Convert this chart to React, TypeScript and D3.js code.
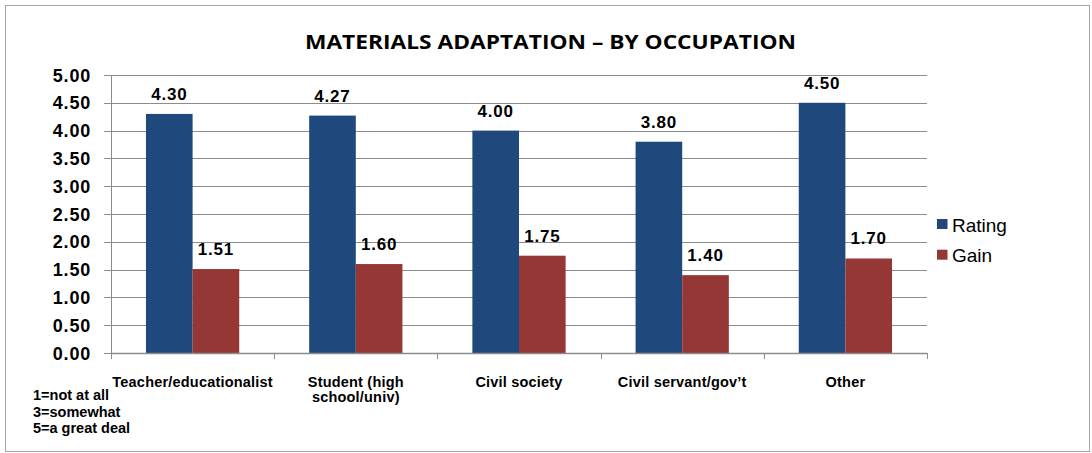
import React from "react";
import * as d3 from "d3";

const categories = ["Teacher/educationalist", "Student (high school/univ)", "Civil society", "Civil servant/gov’t", "Other"];
const categoryLines = [["Teacher/educationalist"], ["Student (high", "school/univ)"], ["Civil society"], ["Civil servant/gov’t"], ["Other"]];
const seriesNames = ["Rating", "Gain"];
const ratingValues = [4.3, 4.27, 4.0, 3.8, 4.5];
const gainValues = [1.51, 1.6, 1.75, 1.4, 1.7];
const yTicks = [0, 0.5, 1, 1.5, 2, 2.5, 3, 3.5, 4, 4.5, 5];
const noteLines = ["1=not at all", "3=somewhat", "5=a great deal"];
const colors = ["#1F497D", "#953735"];

export default function App() {
  const W = 1092, H = 453;
  const left = 111, right = 927, top = 75, bottom = 353;
  const x0 = d3.scaleBand<string>().domain(categories).range([left, right]).paddingInner(0).paddingOuter(0);
  const bw = x0.bandwidth() / 3.5;
  const x1 = d3.scaleBand<string>().domain(seriesNames).range([0, bw * 2]);
  const y = d3.scaleLinear().domain([0, 5]).range([bottom, top]);
  const series = [ratingValues, gainValues];
  const font = "Liberation Sans, Arial, sans-serif";
  const grid = "#8c8c8c";
  return (
    <svg width={W} height={H} style={{ position: "absolute", left: 0, top: 0, fontFamily: font }}>
      <rect x={0} y={0} width={W} height={H} fill="#fff" />
      <rect x={5.5} y={5.5} width={1084} height={446} fill="#fff" stroke="#a6a6a6" strokeWidth={1} />
      <text x={305} y={48.5} fontSize={19} fontWeight="bold" textLength={491} lengthAdjust="spacingAndGlyphs" fontFamily="Open Sans, Liberation Sans, sans-serif">MATERIALS ADAPTATION – BY OCCUPATION</text>
      {yTicks.map((t) => (
        <g key={t}>
          {t > 0 && <line x1={left} x2={right} y1={Math.round(y(t)) + 0.5} y2={Math.round(y(t)) + 0.5} stroke={grid} strokeWidth={1} />}
          <line x1={left - 7} x2={left} y1={Math.round(y(t)) + 0.5} y2={Math.round(y(t)) + 0.5} stroke={grid} />
          <text x={91} y={y(t) + 6.5} textAnchor="end" fontSize={18} letterSpacing={0.8} fontWeight="bold">{t.toFixed(2)}</text>
        </g>
      ))}
      {categories.map((c, i) => (
        <g key={c}>
          {series.map((vals, s) => {
            const bx = (x0(c) as number) + bw * 0.75 + (x1(seriesNames[s]) as number);
            return (
              <g key={s}>
                <rect x={bx} y={y(vals[i])} width={bw} height={bottom - y(vals[i])} fill={colors[s]} />
                <text x={bx + bw / 2} y={y(vals[i]) - 14} textAnchor="middle" fontSize={17} letterSpacing={0.8} fontWeight="bold">{vals[i].toFixed(2)}</text>
              </g>
            );
          })}
          {categoryLines[i].map((ln, k) => (
            <text key={k} x={(x0(c) as number) + x0.bandwidth() / 2} y={386.5 + k * 15} textAnchor="middle" fontSize={14.5} letterSpacing={0.2} fontWeight="bold">{ln}</text>
          ))}
        </g>
      ))}
      <line x1={left + 0.5} x2={left + 0.5} y1={top} y2={bottom} stroke={grid} strokeWidth={1} />
      <line x1={left} x2={right} y1={bottom + 0.5} y2={bottom + 0.5} stroke={grid} strokeWidth={1.5} />
      {d3.range(6).map((k) => {
        const tx = Math.round(left + k * x0.bandwidth()) + 0.5;
        return <line key={k} x1={tx} x2={tx} y1={bottom} y2={bottom + 6} stroke={grid} />;
      })}
      {noteLines.map((n, k) => (
        <text key={n} x={33} y={400 + k * 16.5} fontSize={14.5} fontWeight="bold">{n}</text>
      ))}
      {seriesNames.map((s, k) => (
        <g key={s}>
          <rect x={937} y={219 + k * 30.7} width={10.5} height={10} fill={colors[k]} />
          <text x={952} y={231.7 + k * 30} fontSize={19}>{s}</text>
        </g>
      ))}
    </svg>
  );
}
